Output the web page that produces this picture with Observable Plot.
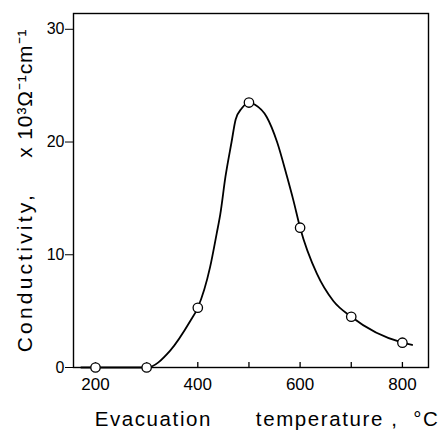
<!DOCTYPE html>
<html>
<head>
<meta charset="utf-8">
<script src="https://cdn.jsdelivr.net/npm/d3@7"></script>
<script src="https://cdn.jsdelivr.net/npm/@observablehq/plot@0.6"></script>
<style>
  html, body { margin: 0; padding: 0; background: white; }
</style>
</head>
<body>
<div id="chart"></div>
<script>
// Measured points
const temps = [200, 300, 400, 500, 600, 700, 800];
const conductivity = [0, 0, 5.3, 23.5, 12.4, 4.5, 2.2];

// Points
const curveTemps = [172, 200, 300, 346, 385, 400, 424, 437, 444, 454, 466, 474, 486, 500, 512, 535, 555, 574, 587, 600, 633, 665, 700, 800, 819];
const curveValues = [0, 0, 0, 1.5, 4.1, 5.3, 8.9, 11.9, 13.6, 16.9, 20.0, 22.0, 23.0, 23.5, 23.3, 22.2, 20.0, 17.0, 14.8, 12.4, 8.3, 5.9, 4.5, 2.2, 2.0];

const xTicks = [200, 300, 400, 500, 600, 700, 800];
const xTickLabels = [200, 400, 600, 800];
const yTicks = [0, 10, 20, 30];

const xLabel = "Evacuation\u00a0\u00a0\u00a0\u00a0\u00a0\u00a0temperature\u00a0,\u00a0\u00a0°C";
const yLabelName = "Conductivity,";
const yLabelGap = "\u00a0\u00a0\u00a0\u00a0\u00a0";
const yLabelUnit = "x\u00a010³Ω⁻¹cm⁻¹";
const yLabel = yLabelName + yLabelGap + yLabelUnit;

const points = temps.map((t, i) => ({t, v: conductivity[i]}));
const curve = curveTemps.map((t, i) => ({t, v: curveValues[i]}));

const svg = Plot.plot({
  width: 441,
  height: 431,
  marginLeft: 73,
  marginRight: 13,
  marginTop: 13,
  marginBottom: 64,
  x: {domain: [157, 851]},
  y: {domain: [0, 31.4]},
  style: {fontFamily: "'Liberation Sans', Arial, sans-serif", background: "white", color: "black"},
  marks: [
    Plot.frame({stroke: "black", strokeWidth: 1.4}),
    Plot.axisY({ticks: yTicks, tickSize: 8, tickPadding: 1, fontSize: 16, label: null}),
    Plot.axisX({ticks: xTicks, tickSize: 5, dy: -5, tickFormat: () => "", label: null, strokeWidth: 1.3}),
    Plot.axisX({ticks: xTickLabels, tickSize: 0, tickPadding: 10, fontSize: 17, label: null}),
    Plot.line(curve, {x: "t", y: "v", curve: "monotone-x", stroke: "black", strokeWidth: 1.8}),
    Plot.dot(points, {x: "t", y: "v", r: 4.7, fill: "white", stroke: "black", strokeWidth: 1.3}),
    Plot.text([xLabel], {text: d => d, frameAnchor: "bottom", textAnchor: "middle", dy: 52, dx: 16, fontSize: 20.5, lineAnchor: "middle"}),
    Plot.text([yLabel], {text: d => d, frameAnchor: "left", textAnchor: "middle", rotate: -90, dx: -48, dy: 0, fontSize: 21, lineAnchor: "middle"})
  ]
});

d3.select(svg).selectAll("text").filter(function() { return this.textContent === xLabel; }).attr("letter-spacing", "1.6px");
const yl = d3.select(svg).selectAll("text").filter(function() { return this.textContent === yLabel; });
yl.text(null);
yl.append("tspan").attr("letter-spacing", "3.2px").text(yLabelName);
yl.append("tspan").attr("letter-spacing", "1px").text(yLabelGap);
yl.append("tspan").attr("letter-spacing", "0.9px").text(yLabelUnit);

document.getElementById("chart").appendChild(svg);
</script>
</body>
</html>
